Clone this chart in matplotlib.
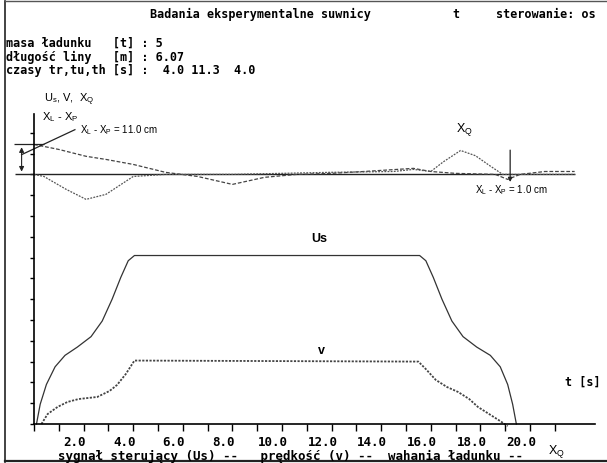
import matplotlib
matplotlib.use("Agg")
import matplotlib.pyplot as plt
import matplotlib.transforms as mtrans

# --- data (t in s, values in axis divisions) ---
us_t = [0.1, 0.25, 0.5, 0.85, 1.25, 1.75, 2.3, 2.75, 3.15, 3.5, 3.8, 4.05,
        15.55, 15.8, 16.1, 16.45, 16.85, 17.3, 17.85, 18.4, 18.8, 19.1, 19.3, 19.45]
us_v = [0.0, 0.95, 1.9, 2.75, 3.3, 3.7, 4.2, 4.95, 6.0, 7.05, 7.85, 8.1,
        8.1, 7.85, 7.05, 6.0, 4.95, 4.2, 3.7, 3.3, 2.75, 1.9, 0.95, 0.0]

v_t = [0.3, 0.55, 0.95, 1.35, 1.8, 2.55, 3.05, 3.35, 3.7, 4.05,
       15.5, 15.8, 16.2, 16.65, 17.1, 17.55, 17.9, 18.35, 18.8, 19.1]
v_v = [0.0, 0.48, 0.82, 1.06, 1.2, 1.3, 1.59, 1.88, 2.4, 3.05,
       3.0, 2.64, 2.12, 1.78, 1.54, 1.2, 0.82, 0.48, 0.14, -0.1]

# load swing (relative to its own zero line)
xq_base = 12.0
dx_t = [0.0, 1.0, 2.1, 2.9, 4.0, 5.3, 6.6, 8.0, 9.3, 10.6, 12.0, 13.3, 15.3,
        16.0, 17.0, 18.6, 19.1, 19.6, 20.6, 21.8]
dx_v = [1.44, 1.2, 0.87, 0.72, 0.48, 0.1, -0.1, -0.48, -0.14, 0.0, 0.05, 0.14, 0.29,
        0.14, 0.05, 0.0, -0.24, 0.0, 0.14, 0.14]
xq_t = [0.0, 0.4, 1.3, 2.1, 2.9, 4.0, 5.3, 8.0, 10.0, 12.0, 14.5, 15.3, 16.0,
        16.5, 17.2, 17.8, 18.4, 18.9, 19.5, 21.8]
xq_v = [0.0, -0.1, -0.72, -1.2, -0.96, -0.1, 0.0, 0.0, 0.05, 0.1, 0.14, 0.24, 0.14,
        0.6, 1.15, 0.9, 0.4, 0.0, 0.0, 0.0]

dx_start = 1.44
dx_end = 1.0

tick_labels = ["2.0", "4.0", "6.0", "8.0", "10.0", "12.0", "14.0", "16.0", "18.0", "20.0"]

W, H = 607, 464
fig = plt.figure(figsize=(W / 100, H / 100), dpi=100)


def fx(px):
    return px / W


def fy(py):
    return 1 - py / H


px_per_s = 24.8
px_per_div = 20.8
x0, y0 = 34, 425
x1, ytop = 595, 115
ax = fig.add_axes([fx(x0), fy(y0), (x1 - x0) / W, (y0 - ytop) / H])
ax.set_xlim(0, (x1 - x0) / px_per_s)
ax.set_ylim(0, (y0 - ytop) / px_per_div)
ax.patch.set_alpha(0)
for s in ["top", "right"]:
    ax.spines[s].set_visible(False)
ax.spines["left"].set_linewidth(1.2)
ax.spines["bottom"].set_linewidth(1.2)

mono = "DejaVu Sans Mono"
ax.set_xticks(range(2, 21, 2))
ax.set_xticklabels(tick_labels, fontfamily=mono, fontweight="bold", fontsize=9)
ax.set_xticks(range(0, 22), minor=True)
ax.tick_params(axis="x", which="both", direction="out", length=5, width=1, pad=3)
ax.set_yticks(range(0, 15))
ax.set_yticklabels([])
ax.tick_params(axis="y", direction="out", length=3, width=1)

shift = mtrans.ScaledTranslation(-9 / 100, 0, fig.dpi_scale_trans)
for lab in ax.get_xticklabels():
    lab.set_transform(lab.get_transform() + shift)

# curves
ax.plot(us_t, us_v, color="#333333", lw=0.9, clip_on=False)
ax.plot(v_t, v_v, color="#444444", lw=1.3, ls=(0, (1.2, 0.8)), clip_on=False)

ax.hlines(xq_base, -0.75, 21.8, color="#222222", lw=1.0, clip_on=False)
ax.plot(dx_t, [xq_base + v for v in dx_v], color="#444444", lw=0.9, ls=(0, (3, 1.5)), clip_on=False)
ax.plot(xq_t, [xq_base + v for v in xq_v], color="#555555", lw=0.9, ls=(0, (1.5, 1)), clip_on=False)

# swing amplitude markers
ax.hlines(xq_base + dx_start, -0.8, 0.4, color="#222222", lw=0.9, clip_on=False)
ax.annotate("", xy=(-0.5, xq_base), xytext=(-0.5, xq_base + dx_start),
            arrowprops=dict(arrowstyle="<|-|>", color="#222222", lw=0.8, mutation_scale=7),
            annotation_clip=False)
ax.plot([-0.5, 1.65], [xq_base + 0.95, xq_base + 2.15], color="#222222", lw=0.9, clip_on=False)
ax.text(1.85, xq_base + 2.2, r"X$_\mathregular{L}$ - X$_\mathregular{P}$ = 11.0 cm",
        fontsize=7, family="Liberation Sans", va="center")
ax.annotate("", xy=(19.2, xq_base - 0.5), xytext=(19.2, xq_base + 1.3),
            arrowprops=dict(arrowstyle="-|>", color="#222222", lw=0.9, mutation_scale=6),
            annotation_clip=False)
ax.text(17.8, xq_base - 0.72, r"X$_\mathregular{L}$ - X$_\mathregular{P}$ = %.1f cm" % dx_end,
        fontsize=7, family="Liberation Sans", va="center")

# curve labels
ax.text(17.35, xq_base + 2.2, r"X$_\mathregular{Q}$", fontsize=9, family="Liberation Sans",
        ha="center", va="center")
ax.text(11.5, 8.95, "Us", fontsize=9, family="Liberation Sans", fontweight="bold",
        ha="center", va="center")
ax.text(11.6, 3.55, "v", fontsize=9, family="Liberation Sans", fontweight="bold",
        ha="center", va="center")

# figure text
kw = dict(family=mono, fontweight="bold", fontsize=8.5, va="center")
fig.text(fx(150), fy(14), "Badania eksperymentalne suwnicy", **kw)
fig.text(fx(452), fy(14), "t", **kw)
fig.text(fx(496), fy(14), "sterowanie: os", **kw)
fig.text(fx(6), fy(43), "masa ładunku   [t] : 5", **kw)
fig.text(fx(6), fy(57), "długość liny   [m] : 6.07", **kw)
fig.text(fx(6), fy(71), "czasy tr,tu,th [s] :  4.0 11.3  4.0", **kw)
fig.text(fx(44), fy(100), r"U$_\mathregular{s}$, V,  X$_\mathregular{Q}$", fontsize=8,
         family="Liberation Sans", va="center")
fig.text(fx(42), fy(117), r"X$_\mathregular{L}$ - X$_\mathregular{P}$", fontsize=8,
         family="Liberation Sans", va="center")
fig.text(fx(565), fy(382), "t [s]", **kw)
fig.text(fx(58), fy(456), "sygnał sterujący (Us) --   prędkość (v) --  wahania ładunku --",
         family=mono, fontweight="bold", fontsize=9, va="center")
fig.text(fx(548), fy(452), r"X$_\mathregular{Q}$", fontsize=9, family="Liberation Sans", va="center")

# outer frame of the screen dump
fig.add_artist(plt.Line2D([fx(5), fx(5)], [fy(2), fy(463)], color="#222222", lw=1.2))
fig.add_artist(plt.Line2D([fx(5), fx(607)], [fy(2), fy(2)], color="#555555", lw=1.0))
fig.add_artist(plt.Line2D([fx(5), fx(607)], [fy(462), fy(462)], color="#222222", lw=1.6))

fig.savefig("out.png", dpi=100)
